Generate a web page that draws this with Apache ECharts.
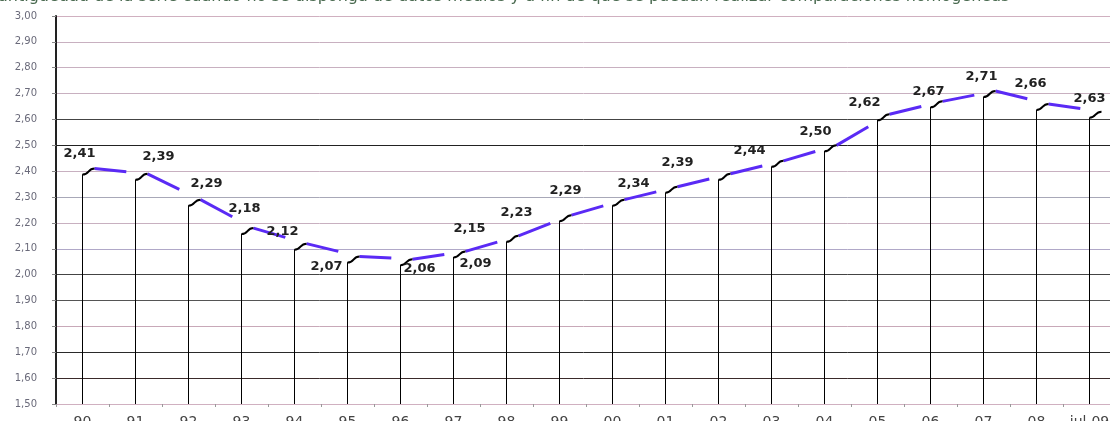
<!DOCTYPE html>
<html>
<head>
<meta charset="utf-8">
<style>
  html, body { margin: 0; padding: 0; background: #fff; }
  #chart { width: 1110px; height: 421px; }
</style>
<script src="https://cdn.jsdelivr.net/npm/echarts@6/dist/echarts.min.js"></script>
</head>
<body>
<div id="chart"></div>
<script>
var years = ['90', '91', '92', '93', '94', '95', '96', '97', '98', '99',
             '00', '01', '02', '03', '04', '05', '06', '07', '08', 'jul-09'];
var values = [2.41, 2.39, 2.29, 2.18, 2.12, 2.07, 2.06, 2.09, 2.15, 2.23,
              2.29, 2.34, 2.39, 2.44, 2.50, 2.62, 2.67, 2.71, 2.66, 2.63];

// where each value label sits, relative to its point (layout only)
var labelNudge = [[-15, -15], [11, -17], [6, -16], [-9, -19], [-24, -12],
                  [-33, 10], [7, 9], [10, 12], [-49, -7], [-55, -3],
                  [-59, -9], [-44, -3], [-53, -11], [-34, -10], [-21, -14],
                  [-25, -12], [-14, -10], [-14, -14], [-18, -20], [-12, -13]];

function comma(v) {
    return Number(v).toFixed(2).replace('.', ',');
}

var chart = echarts.init(document.getElementById('chart'));

var pointData = values.map(function (v, i) {
    var next = i < values.length - 1 ? values[i + 1] : '-';
    return [i, v, next];
});

function renderPoint(params, api) {
    var i = api.value(0);
    var v = api.value(1);
    var next = api.value(2);
    var p = api.coord([i, v]);
    var cx = p[0], cy = p[1];
    var vx = cx + 12, vy = cy;
    var kids = [];
    if (!isNaN(next)) {
        var q = api.coord([i + 1, next]);
        var qx = q[0] + 12, qy = q[1];
        var t = 0.6;
        kids.push({
            type: 'line',
            shape: {x1: vx, y1: vy, x2: vx + (qx - vx) * t, y2: vy + (qy - vy) * t},
            style: {stroke: '#5a2af5', lineWidth: 3}
        });
    }
    kids.push({
        type: 'bezierCurve',
        shape: {x1: cx, y1: cy + 6, cpx1: cx + 7, cpy1: cy + 6, cpx2: cx + 5, cpy2: cy, x2: vx, y2: vy},
        style: {stroke: '#000', lineWidth: 2, fill: null}
    });
    var n = labelNudge[params.dataIndex];
    kids.push({
        type: 'text',
        x: vx + n[0],
        y: vy + n[1],
        style: {
            text: comma(v),
            align: 'center',
            verticalAlign: 'middle',
            font: 'bold 13px "DejaVu Sans"',
            fill: '#222'
        }
    });
    return {type: 'group', children: kids};
}

var option = {
    animation: false,
    title: {
        text: 'antigüedad de la serie cuando no se disponga de datos medios y a fin de que se puedan realizar comparaciones homogéneas',
        left: -2,
        top: -11,
        padding: 0,
        textStyle: {
            fontSize: 16,
            fontWeight: 'normal',
            fontFamily: 'DejaVu Sans',
            color: '#4a6a50'
        }
    },
    grid: {
        left: 56,
        right: -6,
        top: 16,
        bottom: 17,
        outerBoundsMode: 'none'
    },
    xAxis: {
        type: 'category',
        data: years,
        boundaryGap: true,
        axisLine: {lineStyle: {color: '#d0b0c0', width: 1}},
        axisTick: {show: true, length: 3, lineStyle: {color: '#999'}},
        axisLabel: {margin: 11, fontSize: 14, color: '#444', fontFamily: 'DejaVu Sans'},
        splitLine: {show: false}
    },
    yAxis: {
        type: 'value',
        min: 1.5,
        max: 3.0,
        interval: 0.1,
        axisLine: {show: true, lineStyle: {color: '#222', width: 2}},
        axisTick: {show: true, length: 4, lineStyle: {color: '#888'}},
        axisLabel: {
            formatter: comma,
            fontSize: 10,
            color: '#6a6a7a',
            margin: 19,
            fontFamily: 'DejaVu Sans'
        },
        splitLine: {
            show: true,
            lineStyle: {
                width: 1,
                color: ['#d8b8c8', '#3a2a2a', '#2a2a2a', '#c8a8b8', '#555555',
                        '#444444', '#b0a8c8', '#c8b0c0', '#a8a8b8', '#c8b0c0',
                        '#222222', '#444444', '#c8b0c0', '#c8b0c0', '#c8b0c0', '#d0b0c0']
            }
        }
    },
    series: [
        {
            type: 'bar',
            barWidth: 1,
            clip: true,
            itemStyle: {color: '#000'},
            data: values.map(function (v) { return v - 0.022; })
        },
        {
            type: 'custom',
            renderItem: renderPoint,
            encode: {x: 0, y: 1},
            clip: false,
            data: pointData,
            z: 5
        }
    ]
};

chart.setOption(option);
</script>
</body>
</html>
